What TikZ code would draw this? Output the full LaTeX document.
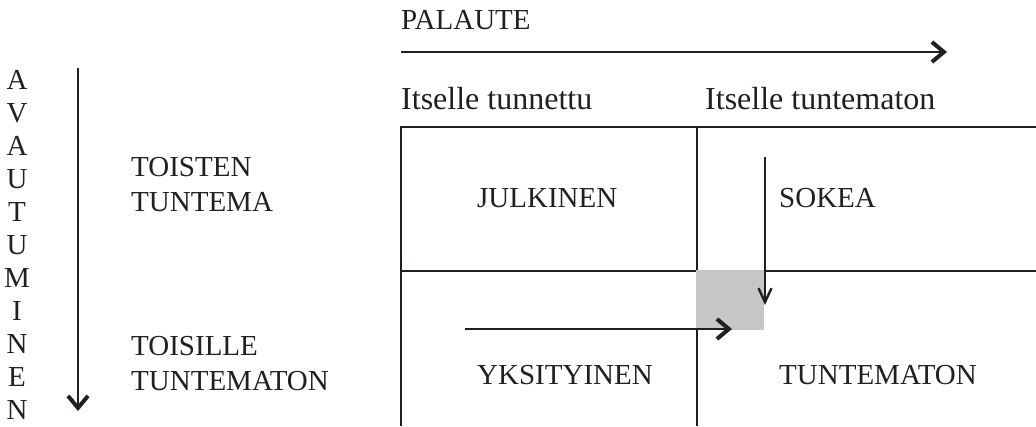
\documentclass[tikz,border=0pt]{standalone}
\usepackage{fontspec}
\setmainfont{Liberation Serif}
\usetikzlibrary{arrows.meta}
\definecolor{boxgrey}{HTML}{C6C7C8}
\definecolor{ink}{HTML}{231F20}
\begin{document}
\begin{tikzpicture}[x=1pt,y=-1pt,
  grid/.style={line width=2pt,draw=ink},
  axis/.style={line width=2.2pt,draw=ink,-{Straight Barb[length=12pt,width=20pt,line width=4pt]}},
  thin/.style={line width=1.6pt,draw=ink,-{Straight Barb[length=14pt,width=13pt,line width=2.4pt]}},
  lbl/.style={anchor=base west,inner sep=0pt,text=ink,font=\fontsize{29}{33}\selectfont},
  head/.style={anchor=base west,inner sep=0pt,text=ink,font=\fontsize{32}{36}\selectfont},
  letter/.style={anchor=base,inner sep=0pt,text=ink,font=\fontsize{29}{33}\selectfont}]
\useasboundingbox (0,0) rectangle (1036,426);

% Johari window grid
\draw[grid] (401,426) -- (401,127) -- (1036,127);
\draw[grid] (697,127) -- (697,426);
\draw[grid] (401,271) -- (1036,271);
\fill[boxgrey] (696,270) rectangle (764,330);

% headings
\node[lbl] (palaute) at (401,29) {PALAUTE};
\node[head] (tunnettu) at (401,109) {Itselle tunnettu};
\node[head] (tuntematon) at (705,109) {Itselle tuntematon};

% quadrant labels
\node[lbl] (julkinen) at (477,207) {JULKINEN};
\node[lbl] (sokea) at (779,207) {SOKEA};
\node[lbl] (yksityinen) at (477,384) {YKSITYINEN};
\node[lbl] (tuntq) at (779,384) {TUNTEMATON};

% row labels
\node[lbl] (toisten) at (131,176) {TOISTEN};
\node[lbl] (tuntema) at (131,211) {TUNTEMA};
\node[lbl] (toisille) at (131,355) {TOISILLE};
\node[lbl] (tuntmaton) at (131,390) {TUNTEMATON};

% vertical word
\foreach \ch [count=\i from 0] in {A,V,A,U,T,U,M,I,N,E,N}
  \node[letter] (av\i) at (17,89+33*\i) {\ch};

% arrows
\coordinate (pa) at (401,52);
\coordinate (pb) at (947,52);
\draw[axis] (pa) -- (pb);
\coordinate (aa) at (78,68);
\coordinate (ab) at (78,411);
\draw[axis] (aa) -- (ab);
\coordinate (sa) at (765,157);
\coordinate (sb) at (765,305);
\draw[thin] (sa) -- (sb);
\coordinate (ya) at (465,329);
\coordinate (yb) at (732,329);
\draw[axis] (ya) -- (yb);
\end{tikzpicture}
\end{document}
